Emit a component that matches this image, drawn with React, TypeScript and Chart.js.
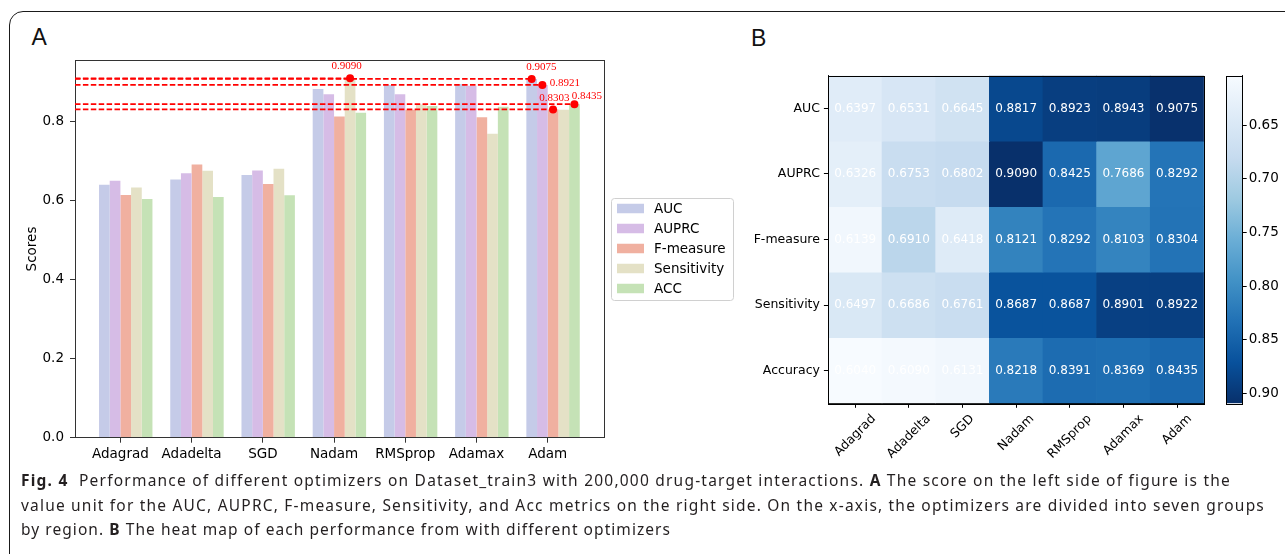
import React, { useEffect, useLayoutEffect, useRef } from 'react';
import { Chart, registerables } from 'chart.js';

Chart.register(...registerables);

// ---------------- Panel A data (grouped bars) ----------------
const optimizers = ['Adagrad', 'Adadelta', 'SGD', 'Nadam', 'RMSprop', 'Adamax', 'Adam'];
const barSeriesNames = ['AUC', 'AUPRC', 'F-measure', 'Sensitivity', 'ACC'];
const barAUC = [0.6397, 0.6531, 0.6645, 0.8817, 0.8923, 0.8943, 0.9075];
const barAUPRC = [0.6497, 0.6686, 0.6761, 0.8687, 0.8687, 0.8901, 0.8921];
const barFMeasure = [0.6139, 0.691, 0.6418, 0.8121, 0.8292, 0.8103, 0.8303];
const barSensitivity = [0.6326, 0.6753, 0.6802, 0.909, 0.8425, 0.7686, 0.8292];
const barACC = [0.604, 0.609, 0.6131, 0.8218, 0.8391, 0.8369, 0.8435];
const scoreTicks = [0, 0.2, 0.4, 0.6, 0.8];
const scoreMax = 0.9545;
const groupMin = -0.6375;
const groupMax = 6.7875;
// highlighted bars (series index, optimizer index)
const highlights = [
  { series: 3, group: 3 },
  { series: 0, group: 6 },
  { series: 1, group: 6 },
  { series: 2, group: 6 },
  { series: 4, group: 6 },
];

// ---------------- Panel B data (heat map) ----------------
const heatMetrics = ['AUC', 'AUPRC', 'F-measure', 'Sensitivity', 'Accuracy'];
const heatAUC = [0.6397, 0.6531, 0.6645, 0.8817, 0.8923, 0.8943, 0.9075];
const heatAUPRC = [0.6326, 0.6753, 0.6802, 0.909, 0.8425, 0.7686, 0.8292];
const heatFMeasure = [0.6139, 0.691, 0.6418, 0.8121, 0.8292, 0.8103, 0.8304];
const heatSensitivity = [0.6497, 0.6686, 0.6761, 0.8687, 0.8687, 0.8901, 0.8922];
const heatAccuracy = [0.604, 0.609, 0.6131, 0.8218, 0.8391, 0.8369, 0.8435];
const colorbarTicks = [0.65, 0.7, 0.75, 0.8, 0.85, 0.9];

// ---------------- styles ----------------
const SPACER = '__spacer';
const barColors = ['#c5cbe8', '#d6bce6', '#f0b0a0', '#e4e1c6', '#c5e2b6'];
const labelPlacement = [
  { dx: -3.5, dy: -11.7 },
  { dx: 9.8, dy: -12 },
  { dx: 22.6, dy: -1.6 },
  { dx: 1.2, dy: -11.3 },
  { dx: 12.4, dy: -8.3 },
];
const bluesStops = [
  [247, 251, 255], [222, 235, 247], [198, 219, 239], [158, 202, 225], [107, 174, 214],
  [66, 146, 198], [33, 113, 181], [8, 81, 156], [8, 48, 107],
];
const FONT = 'DejaVu Sans';

function blues(t: number) {
  t = Math.min(1, Math.max(0, t));
  const p = t * (bluesStops.length - 1);
  const i = Math.min(bluesStops.length - 2, Math.floor(p));
  const f = p - i;
  const a = bluesStops[i];
  const b = bluesStops[i + 1];
  const c = a.map((v, k) => Math.round(v + (b[k] - v) * f));
  return `rgb(${c[0]},${c[1]},${c[2]})`;
}

const barSeries = [barAUC, barAUPRC, barFMeasure, barSensitivity, barACC];
const heatRows = [heatAUC, heatAUPRC, heatFMeasure, heatSensitivity, heatAccuracy];
const allHeat = heatRows.flat();
const vmin = Math.min(...allHeat);
const vmax = Math.max(...allHeat);

const framePlugin = (color: string) => ({
  id: 'frame',
  afterDatasetsDraw(chart: any) {
    const { ctx, chartArea: a } = chart;
    ctx.save();
    ctx.strokeStyle = color;
    ctx.lineWidth = 1;
    ctx.strokeRect(Math.round(a.left) + 0.5, Math.round(a.top) + 0.5, Math.round(a.right - a.left), Math.round(a.bottom - a.top));
    ctx.restore();
  },
});

const highlightPlugin = {
  id: 'highlights',
  afterDatasetsDraw(chart: any) {
    const { ctx, chartArea: area } = chart;
    const pts = highlights.map((h, n) => {
      const el = chart.getDatasetMeta(h.series + 1).data[h.group];
      return { x: el.x, y: el.y, value: barSeries[h.series][h.group], place: labelPlacement[n] };
    });
    ctx.save();
    ctx.strokeStyle = '#ff0000';
    ctx.lineWidth = 1.8;
    ctx.setLineDash([5.5, 2.4]);
    pts.forEach((p) => {
      ctx.beginPath();
      ctx.moveTo(area.left, p.y);
      ctx.lineTo(p.x, p.y);
      ctx.stroke();
    });
    ctx.setLineDash([]);
    ctx.fillStyle = '#ff0000';
    pts.forEach((p) => {
      ctx.beginPath();
      ctx.arc(p.x, p.y, 4, 0, Math.PI * 2);
      ctx.fill();
    });
    ctx.font = '11px "Liberation Serif"';
    ctx.textAlign = 'center';
    ctx.textBaseline = 'middle';
    pts.forEach((p) => ctx.fillText(p.value.toFixed(4), p.x + p.place.dx, p.y + p.place.dy));
    ctx.restore();
  },
};

const legendBox = { left: 611, top: 198, width: 122, height: 102, rowStart: 208.5, rowGap: 20, patchX: 617, patchW: 27, patchH: 9.5, textX: 654 };
const barLegendPlugin = {
  id: 'barLegend',
  afterDraw(chart: any) {
    const { ctx } = chart;
    const L = legendBox;
    const items = chart.data.datasets.filter((d: any) => d.label !== SPACER);
    ctx.save();
    ctx.beginPath();
    ctx.roundRect(L.left + 0.5, L.top + 0.5, L.width, L.height, 3);
    ctx.fillStyle = 'rgba(255,255,255,0.8)';
    ctx.fill();
    ctx.strokeStyle = '#d0d0d0';
    ctx.lineWidth = 1;
    ctx.stroke();
    items.forEach((d: any, i: number) => {
      const y = L.rowStart + i * L.rowGap;
      ctx.fillStyle = d.backgroundColor;
      ctx.fillRect(L.patchX, y - L.patchH / 2, L.patchW, L.patchH);
      ctx.fillStyle = '#000';
      ctx.font = `13.5px "${FONT}"`;
      ctx.textBaseline = 'middle';
      ctx.textAlign = 'left';
      ctx.fillText(d.label, L.textX, y + 0.5);
    });
    ctx.restore();
  },
};

function barConfig(): any {
  const tickFont = { family: FONT, size: 13.5 };
  return {
    type: 'bar',
    data: {
      datasets: [
        { label: SPACER, data: optimizers.map((_, i) => ({ x: i, y: null })), backgroundColor: 'rgba(0,0,0,0)' },
        ...barSeriesNames.map((name, k) => ({
          label: name,
          data: barSeries[k].map((v, i) => ({ x: i, y: v })),
          backgroundColor: barColors[k],
          borderWidth: 0,
        })),
      ],
    },
    options: {
      responsive: false,
      animation: false,
      events: [],
      devicePixelRatio: 1,
      datasets: { bar: { barPercentage: 1, categoryPercentage: 0.9 } },
      layout: { padding: { left: 20, right: 141.2, top: 60.3, bottom: 12.3 } },
      plugins: { legend: { display: false }, tooltip: { enabled: false } },
      scales: {
        x: {
          type: 'linear',
          min: groupMin,
          max: groupMax,
          offset: false,
          afterBuildTicks: (axis: any) => { axis.ticks = optimizers.map((_, i) => ({ value: i })); },
          afterFit: (s: any) => { s.height = 30; },
          ticks: { callback: (v: number) => optimizers[v], font: tickFont, color: '#000', padding: 4, autoSkip: false, maxRotation: 0 },
          grid: { offset: false, drawOnChartArea: false, drawTicks: true, tickLength: 5, color: '#333', tickColor: '#333' },
          border: { display: true, color: '#333', width: 1 },
        },
        y: {
          type: 'linear',
          min: 0,
          max: scoreMax,
          afterBuildTicks: (axis: any) => { axis.ticks = scoreTicks.map((v) => ({ value: v })); },
          afterFit: (s: any) => { s.width = 55; },
          ticks: { callback: (v: number) => v.toFixed(1), font: tickFont, color: '#000', padding: 6 },
          title: { display: true, text: 'Scores', font: tickFont, color: '#000', padding: { top: 4, bottom: 4 } },
          grid: { drawOnChartArea: false, drawTicks: true, tickLength: 5, color: '#333', tickColor: '#333' },
          border: { display: true, color: '#333', width: 1 },
        },
      },
    },
    plugins: [framePlugin('#333'), highlightPlugin, barLegendPlugin],
  };
}

const HEAT_LABEL = 12.5;

const heatTextPlugin = {
  id: 'heatText',
  afterDatasetsDraw(chart: any) {
    const { ctx } = chart;
    ctx.save();
    ctx.fillStyle = '#ffffff';
    ctx.font = `12px "${FONT}"`;
    ctx.textAlign = 'center';
    ctx.textBaseline = 'middle';
    heatRows.forEach((row, r) => {
      const meta = chart.getDatasetMeta(r);
      row.forEach((v, i) => {
        const el = meta.data[i];
        ctx.fillText(v.toFixed(4), el.x, (el.y + el.base) / 2);
      });
    });
    ctx.restore();
  },
};

const heatXLabelPlugin = {
  id: 'heatXLabels',
  afterDraw(chart: any) {
    const { ctx, chartArea } = chart;
    const xs = chart.scales.x;
    const size = HEAT_LABEL;
    ctx.save();
    ctx.font = `${size}px "${FONT}"`;
    ctx.fillStyle = '#000';
    ctx.textAlign = 'center';
    ctx.textBaseline = 'middle';
    const c45 = Math.SQRT1_2;
    optimizers.forEach((name, i) => {
      const x = xs.getPixelForValue(i);
      const w = ctx.measureText(name).width;
      const h = size * 1.16;
      const top = chartArea.bottom + 4.5 + 4;
      const cy = top + ((w + h) * c45) / 2;
      ctx.save();
      ctx.translate(x, cy);
      ctx.rotate(-Math.PI / 4);
      ctx.fillText(name, 0, 0);
      ctx.restore();
    });
    ctx.restore();
  },
};

function heatConfig(): any {
  return {
    type: 'bar',
    data: {
      labels: optimizers,
      datasets: heatRows.map((row, r) => ({
        label: heatMetrics[r],
        data: row.map(() => [r, r + 1]),
        backgroundColor: row.map((v) => blues((v - vmin) / (vmax - vmin))),
        borderWidth: 0,
        barPercentage: 1,
        categoryPercentage: 1,
        grouped: false,
      })),
    },
    options: {
      responsive: false,
      animation: false,
      events: [],
      devicePixelRatio: 1,
      layout: { padding: { left: 18.4, right: 16.1, top: 75.7, bottom: 16.7 } },
      plugins: { legend: { display: false }, tooltip: { enabled: false } },
      scales: {
        x: {
          type: 'category',
          offset: true,
          afterFit: (s: any) => { s.height = 60; },
          ticks: { display: false },
          grid: { offset: false, drawOnChartArea: false, drawTicks: true, tickLength: 4.5, color: '#000', tickColor: '#000' },
          border: { display: true, color: '#000', width: 1 },
        },
        y: {
          type: 'linear',
          min: 0,
          max: heatMetrics.length,
          reverse: true,
          afterBuildTicks: (axis: any) => { axis.ticks = heatMetrics.map((_, i) => ({ value: i + 0.5 })); },
          afterFit: (s: any) => { s.width = 120; },
          ticks: { callback: (_v: number, i: number) => heatMetrics[i], font: { family: FONT, size: HEAT_LABEL }, color: '#000', padding: 4 },
          grid: { drawOnChartArea: false, drawTicks: true, tickLength: 4.5, color: '#000', tickColor: '#000' },
          border: { display: true, color: '#000', width: 1 },
        },
      },
    },
    plugins: [heatTextPlugin, framePlugin('#000'), heatXLabelPlugin],
  };
}

function colorbarConfig(): any {
  return {
    type: 'bar',
    data: {
      labels: [''],
      datasets: [
        {
          data: [[vmin, vmax]],
          borderWidth: 0,
          barPercentage: 1,
          categoryPercentage: 1,
          backgroundColor: (ctx: any) => {
            const a = ctx.chart.chartArea;
            if (!a) return blues(0.5);
            const g = ctx.chart.ctx.createLinearGradient(0, a.top, 0, a.bottom);
            bluesStops.forEach((_, k) => g.addColorStop(k / (bluesStops.length - 1), blues(k / (bluesStops.length - 1))));
            return g;
          },
        },
      ],
    },
    options: {
      responsive: false,
      animation: false,
      events: [],
      devicePixelRatio: 1,
      layout: { padding: { left: 26.4, right: 2.3, top: 75.7, bottom: 76.7 } },
      plugins: { legend: { display: false }, tooltip: { enabled: false } },
      scales: {
        x: { type: 'category', display: false, offset: true },
        y: {
          type: 'linear',
          position: 'right',
          min: vmin,
          max: vmax,
          reverse: true,
          afterBuildTicks: (axis: any) => { axis.ticks = colorbarTicks.map((v) => ({ value: v })); },
          afterFit: (s: any) => { s.width = 40; },
          ticks: { callback: (v: number) => v.toFixed(2), font: { family: FONT, size: 13.5 }, color: '#000', padding: 2 },
          grid: { drawOnChartArea: false, drawTicks: true, tickLength: 4, color: '#000', tickColor: '#000' },
          border: { display: true, color: '#000', width: 1 },
        },
      },
    },
    plugins: [framePlugin('#000')],
  };
}

function ChartCanvas({ make, left, top, width, height }: { make: () => any; left: number; top: number; width: number; height: number }) {
  const ref = useRef<HTMLCanvasElement>(null);
  useEffect(() => {
    const chart = new Chart(ref.current as HTMLCanvasElement, make());
    return () => chart.destroy();
  }, []);
  return <canvas ref={ref} width={width} height={height} style={{ position: 'absolute', left, top, width, height }} />;
}

const captionLines: [string, string][][] = [
  [['b', 'Fig. 4'], ['n', '  Performance of different optimizers on Dataset_train3 with 200,000 drug-target interactions. '], ['b', 'A'], ['n', ' The score on the left side of figure is the']],
  [['n', 'value unit for the AUC, AUPRC, F-measure, Sensitivity, and Acc metrics on the right side. On the x-axis, the optimizers are divided into seven groups']],
  [['n', 'by region. '], ['b', 'B'], ['n', ' The heat map of each performance from with different optimizers']],
];
const captionWidths = [1210, 1244, 650];

function Caption() {
  const refs = useRef<(HTMLSpanElement | null)[]>([]);
  useLayoutEffect(() => {
    refs.current.forEach((el, i) => {
      if (!el) return;
      el.style.letterSpacing = '0px';
      const w = el.getBoundingClientRect().width;
      const n = (el.textContent || '').length;
      el.style.letterSpacing = `${(captionWidths[i] - w) / n}px`;
    });
  }, []);
  return (
    <div style={{ position: 'absolute', left: 21, top: 468, font: '15.5px "Noto Sans"', lineHeight: '24.5px', color: '#231f20' }}>
      {captionLines.map((line, i) => (
        <div key={i} style={{ height: 24.5 }}>
          <span ref={(el) => { refs.current[i] = el; }} style={{ display: 'inline-block', whiteSpace: 'pre' }}>
            {line.map(([k, t], j) => (
              <span key={j} style={{ fontWeight: k === 'b' ? 700 : 400 }}>{t}</span>
            ))}
          </span>
        </div>
      ))}
    </div>
  );
}

export default function App() {
  return (
    <div style={{ position: 'absolute', left: 0, top: 0, width: 1285, height: 554, overflow: 'hidden', background: '#fff' }}>
      <div style={{ position: 'absolute', left: 9, top: 11, width: 1400, height: 700, border: '1.5px solid #1a1a1a', borderTopLeftRadius: 14, boxSizing: 'border-box' }} />
      <div style={{ position: 'absolute', left: 31.5, top: 26, font: '23px "Liberation Sans"', lineHeight: '23px', color: '#111' }}>A</div>
      <div style={{ position: 'absolute', left: 751, top: 27, font: '23px "Liberation Sans"', lineHeight: '23px', color: '#111' }}>B</div>
      <ChartCanvas make={barConfig} left={0} top={0} width={745} height={480} />
      <ChartCanvas make={heatConfig} left={690} top={0} width={530} height={480} />
      <ChartCanvas make={colorbarConfig} left={1200} top={0} width={85} height={480} />
      <Caption />
    </div>
  );
}
